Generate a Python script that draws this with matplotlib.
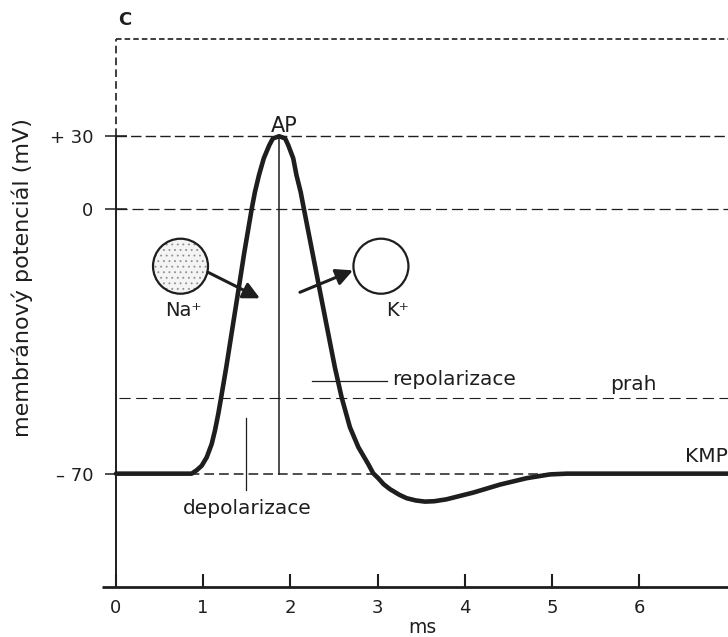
import matplotlib
matplotlib.use('Agg')
import matplotlib.pyplot as plt
import numpy as np
from matplotlib.patches import Ellipse

plt.rcParams['font.family'] = ['DejaVu Sans']
plt.rcParams['lines.scale_dashes'] = False
plt.rcParams['hatch.linewidth'] = 0.6

# ---- data ----
time_ms = [0.0, 0.5, 0.868, 0.925, 0.983, 1.04, 1.097, 1.135, 1.173, 1.205, 1.265,
           1.325, 1.41, 1.47, 1.556, 1.594, 1.64, 1.695, 1.758, 1.80,
           1.872, 1.94, 1.976, 2.033, 2.07, 2.118, 2.156, 2.255, 2.33, 2.435,
           2.51, 2.588, 2.683, 2.78, 2.894, 2.95, 3.008, 3.07, 3.142, 3.25, 3.334,
           3.44, 3.544, 3.65, 3.79, 4.10, 4.404, 4.71, 4.977, 5.17, 6.0, 7.02]
potential_mV = [-70, -70, -70, -69.1, -67.9, -65.7, -62.2, -58.6, -54.2, -50, -41.8,
                -33, -20.6, -11.7, 0, 7.1, 14, 20.9, 26.3, 29.1,
                30, 29.1, 26.3, 20.9, 14, 7.1, 0, -11.7, -20.6, -33,
                -41.8, -49.8, -57.7, -63, -67.5, -69.9, -71.2, -72.8, -74.1, -75.6, -76.5,
                -77.1, -77.4, -77.3, -76.8, -75, -72.9, -71.2, -70.2, -70, -70, -70]

x_ticks = [0, 1, 2, 3, 4, 5, 6]
x_tick_labels = ['0', '1', '2', '3', '4', '5', '6']
y_ticks = [30, 0, -70]
y_tick_labels = ['+ 30', '0', '\u2013 70']

peak_mV = 30
zero_mV = 0
threshold_mV = -50
rest_mV = -70
top_mV = 70
bottom_mV = -100
x_max = 7.02

# schematic axis: positive part is compressed
POS = 2.43 / 3.777


def fwd(y):
    y = np.asarray(y, dtype=float)
    return np.where(y >= 0, y * POS, y)


def inv(y):
    y = np.asarray(y, dtype=float)
    return np.where(y >= 0, y / POS, y)


INK = '#1e1e1e'

fig = plt.figure(figsize=(7.28, 6.37), dpi=100)
ax = fig.add_axes([116 / 728, 50 / 637, 612 / 728, 548 / 637])
ax.set_yscale('function', functions=(fwd, inv))
ax.set_xlim(0, x_max)
ax.set_ylim(bottom_mV, top_mV)
for s in ax.spines.values():
    s.set_visible(False)

# frame lines
ax.plot([-0.16, x_max], [bottom_mV, bottom_mV], color=INK, lw=2.0, clip_on=False,
        solid_capstyle='butt')
ax.plot([0, 0], [bottom_mV, peak_mV], color=INK, lw=1.4, clip_on=False)
ax.plot([0, 0], [peak_mV, top_mV], color=INK, lw=1.2, clip_on=False, dashes=(5.5, 3))
ax.plot([0, x_max], [top_mV, top_mV], color=INK, lw=1.2, clip_on=False, dashes=(4, 2.2))

# reference levels
ax.plot([0, x_max], [peak_mV, peak_mV], color=INK, lw=1.0, dashes=(7.5, 3), clip_on=False)
ax.plot([0, x_max], [zero_mV, zero_mV], color=INK, lw=0.9, dashes=(8, 3.5), clip_on=False)
ax.plot([0.03, x_max], [threshold_mV, threshold_mV], color=INK, lw=0.8, dashes=(8, 4),
        clip_on=False)
ax.plot([0, x_max], [rest_mV, rest_mV], color=INK, lw=1.1, dashes=(7, 3.6), clip_on=False)

# AP vertical marker
peak_t = time_ms[int(np.argmax(potential_mV))]
ax.plot([peak_t, peak_t], [rest_mV, peak_mV], color=INK, lw=1.1)

# membrane potential curve
ax.plot(time_ms, potential_mV, color=INK, lw=3.3, solid_joinstyle='round',
        solid_capstyle='round', zorder=5, clip_on=False)

# ticks
ax.set_xticks(x_ticks)
ax.set_xticklabels(x_tick_labels)
ax.set_yticks(y_ticks)
ax.set_yticklabels(y_tick_labels)
ax.yaxis.set_minor_locator(matplotlib.ticker.NullLocator())
ax.tick_params(axis='x', direction='in', length=9.5, width=1.5, pad=8.5,
               labelsize=13, colors=INK)
ax.tick_params(axis='y', direction='inout', length=16, width=1.1, pad=8.5,
               labelsize=13, colors=INK)

# axis labels
ax.text(0.5, -0.0748, 'ms', transform=ax.transAxes, ha='center', va='center',
        fontsize=13.5, color=INK)
ax.text(-0.1356, 0.564, 'membránový potenciál (mV)', transform=ax.transAxes,
        rotation=90, ha='right', va='center', fontsize=16, color=INK)
fig.text(118 / 728, 1 - 20 / 637, 'C', fontsize=13, fontweight='bold', ha='left',
         va='center', color=INK)

# annotations
ax.text(1.93, 31.7, 'AP', ha='center', va='baseline', fontsize=15, color=INK)
ax.plot([1.49, 1.49], [-55.4, -74.3], color=INK, lw=0.9)
ax.text(1.50, -79.3, 'depolarizace', ha='center', va='center', fontsize=14.5, color=INK)
ax.plot([2.25, 3.11], [-45.4, -45.4], color=INK, lw=0.9)
ax.text(3.165, -45.2, 'repolarizace', ha='left', va='center', fontsize=14.5, color=INK)
ax.text(5.93, -46.3, 'prah', ha='center', va='center', fontsize=14.5, color=INK)
ax.text(x_max, -65.5, 'KMP', ha='right', va='center', fontsize=14.5, color=INK,
        clip_on=False)

# ions
cy = -15.1
w = 55 / 87.2
h = 55 / 3.777
na_x, k_x = 0.74, 3.039
ax.add_patch(Ellipse((na_x, cy), w, h, facecolor='#f4f4f4', edgecolor='#909090',
                     hatch='...', lw=0, zorder=6))
ax.add_patch(Ellipse((na_x, cy), w, h, fill=False, edgecolor=INK, lw=1.6, zorder=7))
ax.add_patch(Ellipse((k_x, cy), w, h, facecolor='white', edgecolor=INK, lw=1.6, zorder=7))
ax.text(0.77, -26.8, 'Na\u207a', ha='center', va='center', fontsize=14, color=INK)
ax.text(3.23, -26.8, 'K\u207a', ha='center', va='center', fontsize=14, color=INK)

arrow = dict(arrowstyle='-|>,head_length=1.0,head_width=0.5', lw=2.2, color=INK,
             mutation_scale=10, shrinkA=0, shrinkB=0)
ax.annotate('', xy=(1.651, -23.6), xytext=(1.055, -16.7), arrowprops=arrow, zorder=8)
ax.annotate('', xy=(2.718, -16.2), xytext=(2.11, -22.0), arrowprops=arrow, zorder=8)

fig.savefig('out.png', dpi=100)
